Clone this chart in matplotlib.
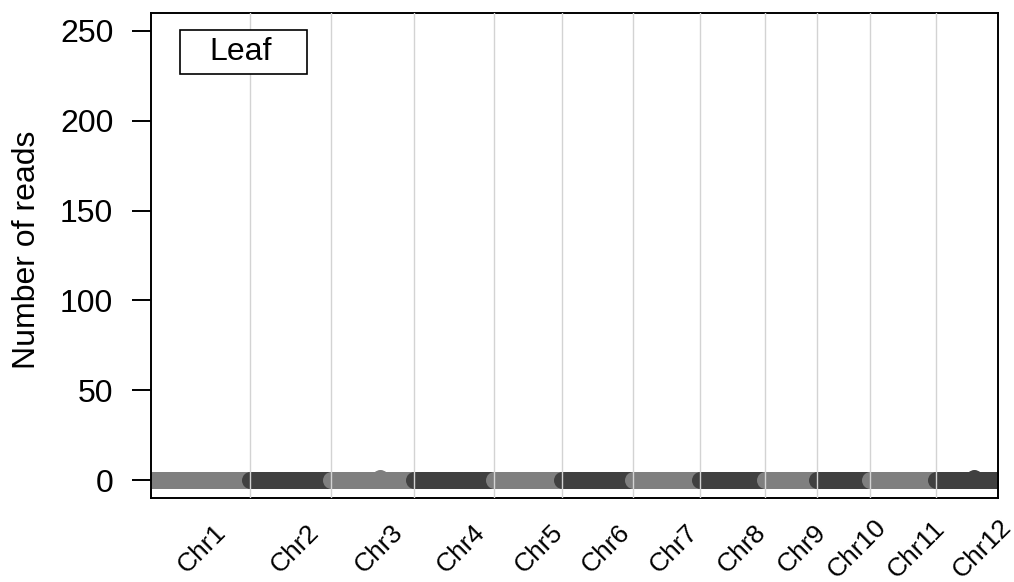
"""
Leaf サンプルの染色体別リード数プロット（イネ 12 染色体）
"""
import matplotlib

matplotlib.use("Agg")
import matplotlib.pyplot as plt
import numpy as np
from matplotlib.patches import Rectangle
from matplotlib.transforms import blended_transform_factory

matplotlib.rcParams["font.family"] = ["Liberation Sans", "DejaVu Sans"]

# 染色体名と長さ (Mb)
CHROMS = ["Chr1", "Chr2", "Chr3", "Chr4", "Chr5", "Chr6",
          "Chr7", "Chr8", "Chr9", "Chr10", "Chr11", "Chr12"]
CHR_LEN_MB = [43.27, 35.94, 36.41, 35.50, 29.96, 31.25,
              29.70, 28.44, 23.01, 23.21, 29.02, 27.53]

# 1Mb ビンごとのリード数。ほぼ全て 0、読めた非ゼロだけ記録
BIN_MB = 1.0
NONZERO_BINS = {"Chr3": [(21.5, 1)], "Chr12": [(16.9, 1)]}

# x 軸ラベルの位置（累積 Mb、図から読み取り）
LABEL_POS_MB = [22.0, 63.3, 100.3, 136.5, 170.9, 200.4,
                230.2, 260.4, 286.8, 311.1, 337.3, 366.2]

Y_TICKS = [0, 50, 100, 150, 200, 250]
COLORS = ["#7F7F7F", "#404040"]


def main() -> None:
    offsets = np.concatenate([[0], np.cumsum(CHR_LEN_MB)])
    total = offsets[-1]

    fig = plt.figure(figsize=(10.14, 5.82), dpi=100)
    ax = fig.add_axes([0.1494, 0.1443, 0.8348, 0.8334])

    # 染色体ごとに点を描画（奇数=薄いグレー, 偶数=濃いグレー）
    for i, (name, length) in enumerate(zip(CHROMS, CHR_LEN_MB)):
        pos = np.arange(0, length, BIN_MB)
        reads = np.zeros(len(pos))
        for p, v in NONZERO_BINS.get(name, []):
            pos = np.append(pos, p)
            reads = np.append(reads, v)
        ax.scatter(pos + offsets[i], reads, s=150, color=COLORS[i % 2],
                   linewidths=0, zorder=2)

    # 染色体の境界線
    for b in offsets[1:-1]:
        ax.axvline(b, color="#D3D3D3", linewidth=1.0, zorder=3)

    ax.set_xlim(0, total)
    ax.set_ylim(-10, 260)
    ax.set_yticks(Y_TICKS)
    ax.tick_params(axis="y", labelsize=23, length=13.5, width=1.4, pad=14)
    ax.set_xticks([])
    ax.set_ylabel("Number of reads", fontsize=23)
    ax.yaxis.set_label_coords(-0.129, 0.512)
    for sp in ax.spines.values():
        sp.set_linewidth(1.4)

    # 45度回転した染色体ラベル
    trans = blended_transform_factory(ax.transData, ax.transAxes)
    for name, x in zip(CHROMS, LABEL_POS_MB):
        ax.text(x, -0.105, name, transform=trans, rotation=45,
                rotation_mode="anchor", ha="center", va="center",
                fontsize=19)

    # 凡例ボックス
    ax.add_patch(Rectangle((0.0337, 0.874), 0.150, 0.091, transform=ax.transAxes,
                           facecolor="white", edgecolor="black", linewidth=1.2,
                           zorder=4))
    ax.text(0.1055, 0.9195, "Leaf", transform=ax.transAxes, ha="center",
            va="center", fontsize=23, zorder=5)

    fig.savefig("out.png", dpi=100)
    plt.close(fig)


if __name__ == "__main__":
    main()
